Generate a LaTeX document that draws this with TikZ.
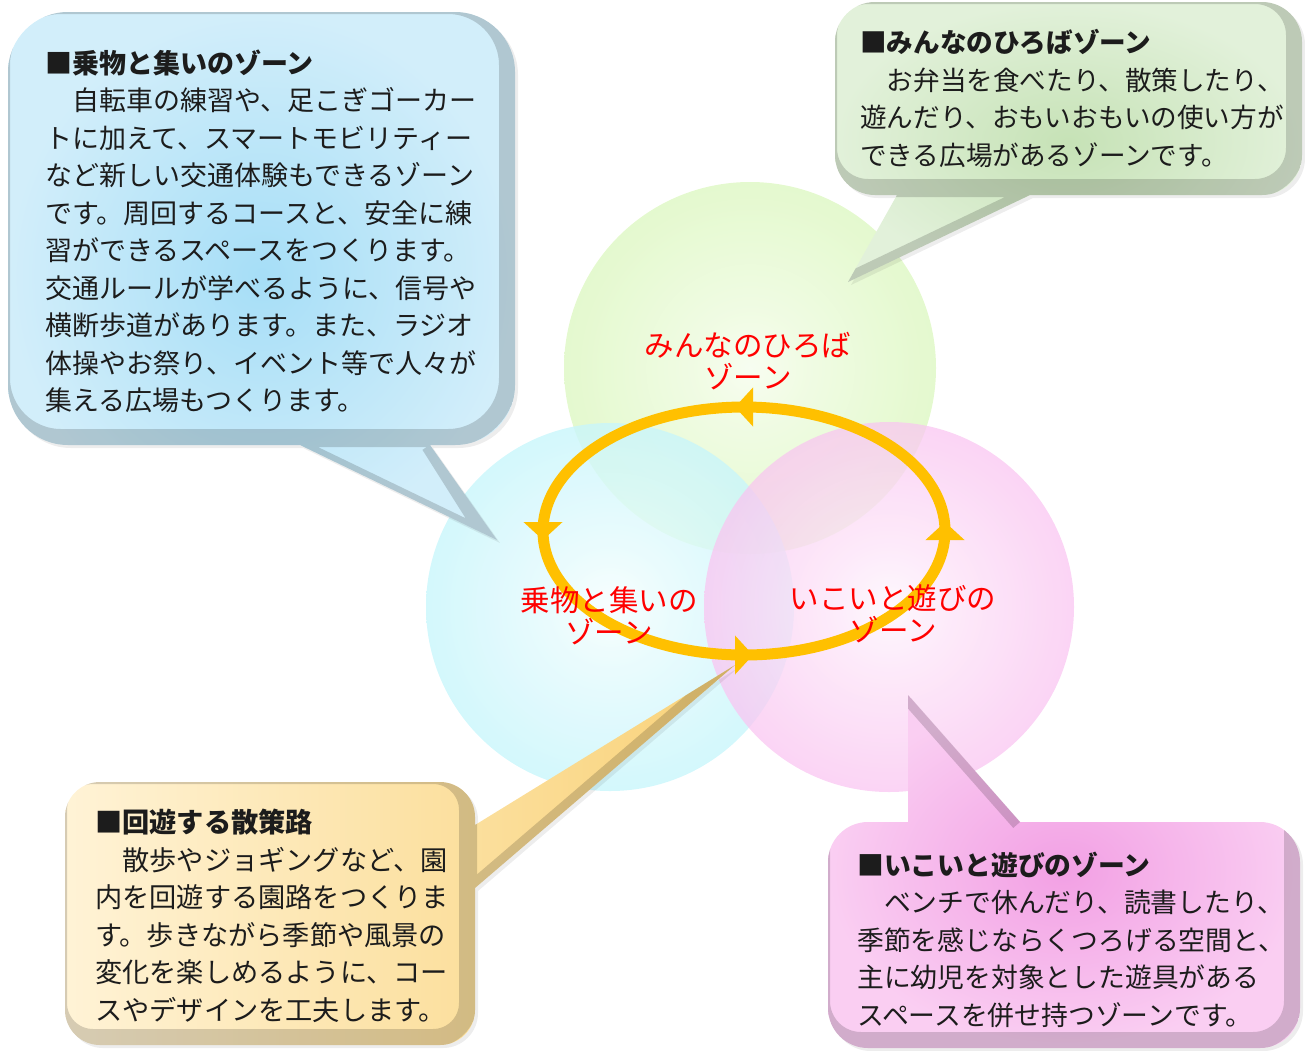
\documentclass[tikz,border=0pt]{standalone}
\usepackage{fontspec}
\setmainfont{Noto Sans CJK JP}
\usepackage{tikz}
\usetikzlibrary{arrows.meta,decorations.markings}

\definecolor{ballGreen}{RGB}{214,246,180}
\definecolor{ballCyan}{RGB}{168,240,248}
\definecolor{ballPink}{RGB}{246,164,232}
\definecolor{loopGold}{RGB}{255,192,0}
\definecolor{zoneRed}{RGB}{255,0,0}
\definecolor{txtDark}{RGB}{28,28,28}

\pgfdeclareradialshading{greenBall}{\pgfpoint{0bp}{0bp}}{color(0bp)=(white!80!ballGreen); color(8bp)=(white!60!ballGreen); color(44bp)=(ballGreen); color(100bp)=(ballGreen)}
\pgfdeclareradialshading{cyanBall}{\pgfpoint{0bp}{0bp}}{color(0bp)=(white!90!ballCyan); color(8bp)=(white!70!ballCyan); color(44bp)=(ballCyan); color(100bp)=(ballCyan)}
\pgfdeclareradialshading{pinkBall}{\pgfpoint{0bp}{0bp}}{color(0bp)=(white!90!ballPink); color(8bp)=(white!70!ballPink); color(44bp)=(ballPink); color(100bp)=(ballPink)}

\tikzset{
  zonetext/.style={anchor=west, inner sep=0pt, align=left, text=txtDark, font=\fontsize{#1}{37.5}\selectfont},
  zonetext/.default=27,
  zonelabel/.style={anchor=center, inner sep=0pt, align=center, text=zoneRed, font=\fontsize{29.5}{31.5}\selectfont},
  boxshadow/.style={fill=black, opacity=.07},
  bevel/.style={draw=black, line width=18, opacity=.16},
}

\begin{document}
\begin{tikzpicture}[x=1pt,y=1pt,yscale=-1,xscale=1]
\useasboundingbox (0,0) rectangle (1305,1050);

%Shape: Circle
\shade[shading=greenBall, opacity=.95] (750,368) circle (186);
%Shape: Circle
\shade[shading=cyanBall, opacity=.8] (610,607) circle (184);
%Shape: Circle
\shade[shading=pinkBall, opacity=.75] (889,607) circle (185);

%Shape: Callout (blue)
\fill[boxshadow, shift={(3,3)}] [rounded corners=60] (8,12) rectangle (515,445) [sharp corners] (300,445) -- (497,540) -- (430,445) -- cycle;
\shade[inner color={rgb,255:red,166;green,222;blue,247}, outer color={rgb,255:red,210;green,238;blue,250}] [rounded corners=60] (8,12) rectangle (515,445) [sharp corners] (300,445) -- (497,540) -- (430,445) -- cycle;
\begin{scope}
\clip [rounded corners=60] (8,12) rectangle (515,445) [sharp corners] (300,445) -- (497,540) -- (430,445) -- cycle;
\draw[bevel, shift={(-7,-7)}] [rounded corners=60] (8,12) rectangle (515,445) [sharp corners] (300,452) -- (497,547) -- (437,452);
\end{scope}

%Shape: Callout (green)
\fill[boxshadow, shift={(3,3)}] [rounded corners=40] (835,2) rectangle (1302,195) [sharp corners] (897,195) -- (848,282) -- (1030,195) -- cycle;
\shade[inner color={rgb,255:red,198;green,226;blue,182}, outer color={rgb,255:red,226;green,241;blue,218}] [rounded corners=40] (835,2) rectangle (1302,195) [sharp corners] (897,195) -- (848,282) -- (1030,195) -- cycle;
\begin{scope}
\clip [rounded corners=40] (835,2) rectangle (1302,195) [sharp corners] (897,195) -- (848,282) -- (1030,195) -- cycle;
\draw[bevel, shift={(-7,-7)}] [rounded corners=40] (835,2) rectangle (1302,195) [sharp corners] (1037,202) -- (855,289);
\end{scope}

%Shape: Callout (orange)
\fill[boxshadow, shift={(3,3)}] [rounded corners=35] (65,782) rectangle (475,1045) [sharp corners] (475,825) -- (735,665) -- (475,888) -- cycle;
\shade[left color={rgb,255:red,255;green,243;blue,214}, right color={rgb,255:red,249;green,210;blue,120}] [rounded corners=35] (65,782) rectangle (475,1045) [sharp corners] (475,825) -- (735,665) -- (475,888) -- cycle;
\begin{scope}
\clip [rounded corners=35] (65,782) rectangle (475,1045) [sharp corners] (475,825) -- (735,665) -- (475,888) -- cycle;
\draw[bevel, shift={(-7,-7)}] [rounded corners=35] (65,782) rectangle (475,1045) [sharp corners] (482,895) -- (742,672);
\end{scope}

%Shape: Callout (pink)
\fill[boxshadow, shift={(3,3)}] [rounded corners=40] (828,822) rectangle (1300,1048) [sharp corners] (908,822) -- (908,695) -- (1020,822) -- cycle;
\shade[inner color={rgb,255:red,242;green,160;blue,228}, outer color={rgb,255:red,250;green,206;blue,242}] [rounded corners=40] (828,822) rectangle (1300,1048) [sharp corners] (908,822) -- (908,695) -- (1020,822) -- cycle;
\begin{scope}
\clip [rounded corners=40] (828,822) rectangle (1300,1048) [sharp corners] (908,822) -- (908,695) -- (1020,822) -- cycle;
\draw[bevel, shift={(-7,-7)}] [rounded corners=40] (1300,700) -- (1300,1048) -- (828,1048) -- (828,700) [sharp corners] (915,702) -- (1027,829);
\end{scope}

%Shape: Ellipse (loop with four heads)
\draw[loopGold, line width=11, postaction={decorate, decoration={markings,
    mark=at position 0 with {\arrow[xshift=9pt]{Triangle[width=38pt,length=18pt]}},
    mark=at position 0.25 with {\arrow[xshift=9pt]{Triangle[width=38pt,length=18pt]}},
    mark=at position 0.5 with {\arrow[xshift=9pt]{Triangle[width=38pt,length=18pt]}},
    mark=at position 0.75 with {\arrow[xshift=9pt]{Triangle[width=38pt,length=18pt]}}}}]
  (945,531) arc [start angle=0, end angle=-360, x radius=201, y radius=124];

% Text Node
\node (lblHiroba) [zonelabel] at (748,361) {みんなのひろば\\ゾーン};
% Text Node
\node (lblNorimono) [zonelabel] at (609,616) {乗物と集いの\\ゾーン};
% Text Node
\node (lblIkoi) [zonelabel] at (893,614) {いこいと遊びの\\ゾーン};

% Text Node
\node (txtNorimono) [zonetext] at (45,231.5) {{\bfseries ■乗物と集いのゾーン}\\
　自転車の練習や、足こぎゴーカー\\
トに加えて、スマートモビリティー\\
など新しい交通体験もできるゾーン\\
です。周回するコースと、安全に練\\
習ができるスペースをつくります。\\
交通ルールが学べるように、信号や\\
横断歩道があります。また、ラジオ\\
体操やお祭り、イベント等で人々が\\
集える広場もつくります。};
% Text Node
\node (txtHiroba) [zonetext=26.6] at (860,98.5) {{\bfseries ■みんなのひろばゾーン}\\
　お弁当を食べたり、散策したり、\\
遊んだり、おもいおもいの使い方が\\
できる広場があるゾーンです。};
% Text Node
\node (txtSanpo) [zonetext=27.2] at (95,916) {{\bfseries ■回遊する散策路}\\
　散歩やジョギングなど、園\\
内を回遊する園路をつくりま\\
す。歩きながら季節や風景の\\
変化を楽しめるように、コー\\
スやデザインを工夫します。};
% Text Node
\node (txtIkoi) [zonetext=26.8] at (857,939.5) {{\bfseries ■いこいと遊びのゾーン}\\
　ベンチで休んだり、読書したり、\\
季節を感じならくつろげる空間と、\\
主に幼児を対象とした遊具がある\\
スペースを併せ持つゾーンです。};

\end{tikzpicture}
\end{document}
